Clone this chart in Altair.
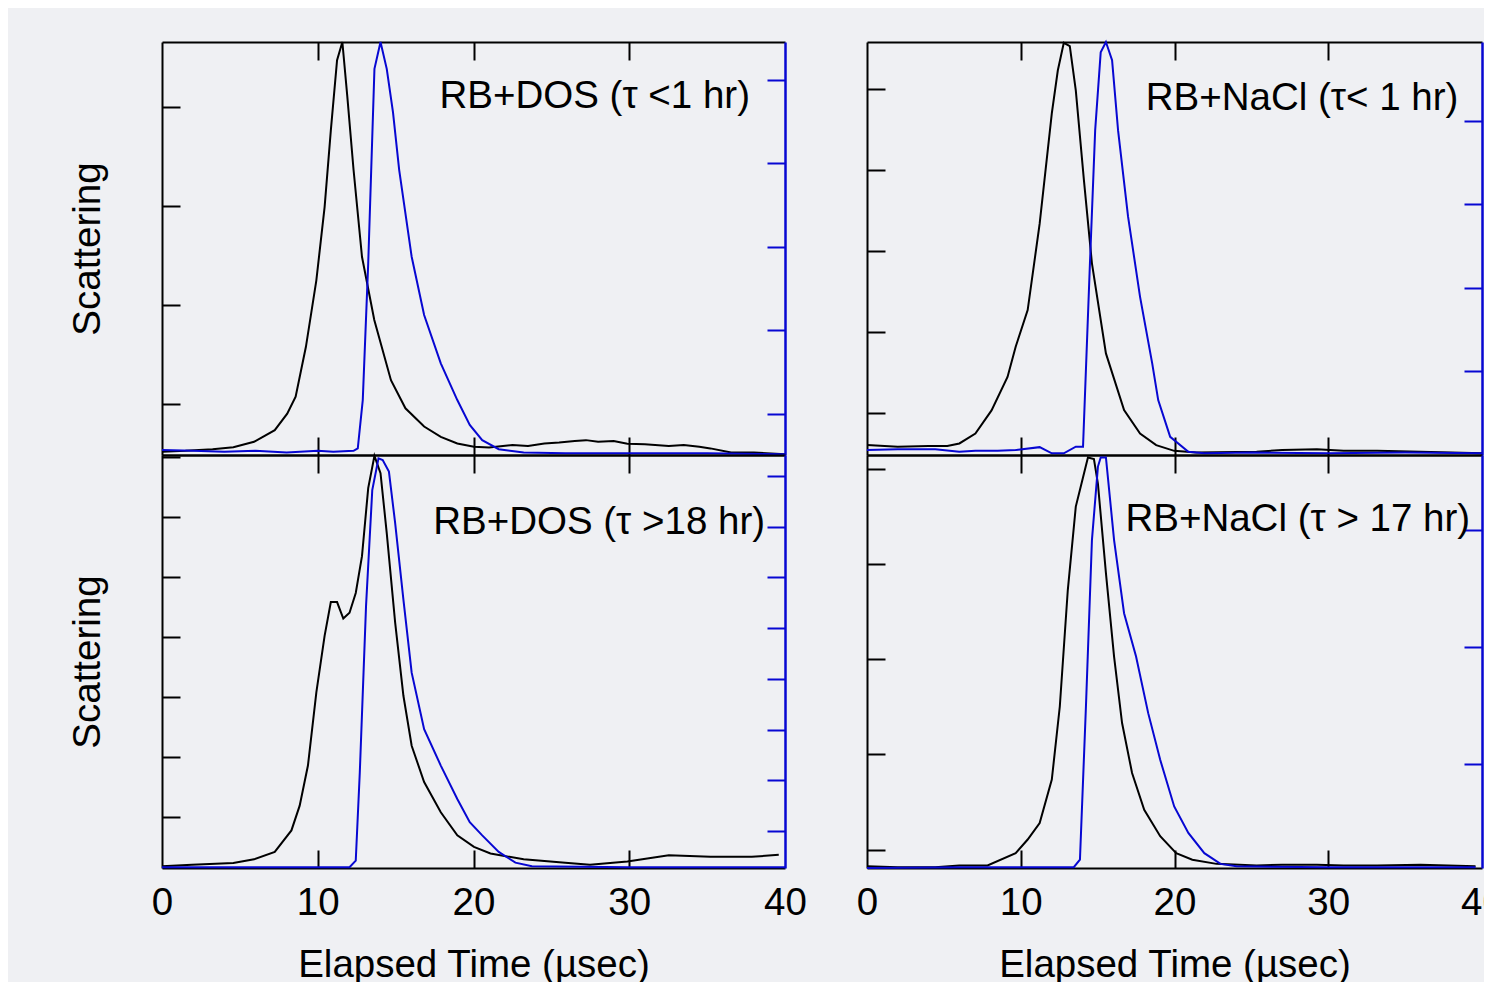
import altair as alt
import pandas as pd

FONT = "Liberation Sans"
BLUE = "#0707d2"
BG = "#eff0f3"

# ---------- data (elapsed time in usec, scattering normalised to panel height) ----------
# Top-left: RB+DOS (tau <1 hr)
tl_black_t = [0, 1.5, 3.25, 4.58, 5.91, 7.24, 8.04, 8.58, 9.24, 9.91, 10.44, 10.84, 11.24, 11.58,
              11.90, 12.30, 12.84, 13.63, 14.70, 15.63, 16.83, 17.90, 18.96, 20.03, 21.0, 21.89,
              22.5, 23.5, 24.55, 25.5, 26.5, 27.22, 28.0, 29.0, 29.88, 31.0, 32.54, 33.5, 34.5,
              35.21, 36.54, 38.0, 40]
tl_black_s = [0.008, 0.010, 0.014, 0.019, 0.032, 0.060, 0.100, 0.141, 0.262, 0.423, 0.600, 0.786,
              0.956, 1.000, 0.867, 0.690, 0.480, 0.327, 0.181, 0.113, 0.069, 0.044, 0.028, 0.020,
              0.018, 0.022, 0.024, 0.022, 0.028, 0.030, 0.034, 0.036, 0.032, 0.034, 0.027, 0.026,
              0.022, 0.024, 0.020, 0.016, 0.006, 0.006, 0.002]
tl_blue_t = [0, 2, 4, 6, 8, 10, 11, 12.30, 12.57, 12.89, 13.24, 13.64, 14.03, 14.43, 14.83, 15.23,
             16.03, 16.83, 17.90, 18.96, 19.76, 20.56, 21.62, 23.22, 25.9, 30, 35, 40]
tl_blue_s = [0.012, 0.010, 0.008, 0.010, 0.006, 0.010, 0.008, 0.010, 0.016, 0.133, 0.464, 0.935,
             1.000, 0.935, 0.830, 0.690, 0.480, 0.339, 0.222, 0.133, 0.073, 0.036, 0.014, 0.006,
             0.004, 0.004, 0.004, 0.002]

# Top-right: RB+NaCl (tau < 1 hr)
tr_black_t = [0, 2, 4, 5.22, 6.01, 7.05, 8.10, 9.14, 9.67, 10.45, 11.23, 12.02, 12.41, 12.80, 13.19,
              13.58, 14.11, 14.63, 15.54, 16.72, 17.76, 18.81, 19.98, 21.42, 25.34, 27, 29.26, 31,
              33.18, 36, 40]
tr_black_s = [0.024, 0.020, 0.022, 0.022, 0.028, 0.052, 0.108, 0.189, 0.262, 0.351, 0.560, 0.827,
              0.931, 0.998, 0.990, 0.883, 0.665, 0.464, 0.246, 0.109, 0.052, 0.024, 0.010, 0.006,
              0.008, 0.012, 0.014, 0.010, 0.010, 0.008, 0.004]
tr_blue_t = [0, 2, 4.44, 6, 7.05, 8.5, 9.67, 11.23, 12.02, 12.80, 13.58, 14.05, 14.50, 14.84, 15.20,
             15.54, 15.94, 16.33, 16.98, 17.76, 18.55, 18.94, 19.72, 20.90, 21.94, 25, 30, 35, 40]
tr_blue_s = [0.012, 0.014, 0.014, 0.008, 0.010, 0.010, 0.012, 0.019, 0.004, 0.004, 0.020, 0.020,
             0.464, 0.786, 0.975, 1.000, 0.956, 0.786, 0.577, 0.383, 0.222, 0.133, 0.044, 0.008,
             0.004, 0.006, 0.004, 0.006, 0.004]

# Bottom-left: RB+DOS (tau >18 hr)
bl_black_t = [0, 1.92, 4.58, 5.91, 7.24, 8.31, 8.84, 9.37, 9.91, 10.44, 10.84, 11.24, 11.64, 12.04,
              12.44, 12.84, 13.24, 13.64, 14.03, 14.43, 14.97, 15.50, 16.03, 16.83, 17.90, 18.96,
              20.03, 21.09, 23.22, 25.89, 27.48, 29.88, 32.54, 35.21, 37.87, 39.60]
bl_black_s = [0.004, 0.008, 0.012, 0.021, 0.039, 0.091, 0.151, 0.248, 0.425, 0.562, 0.644, 0.644,
              0.604, 0.618, 0.666, 0.755, 0.920, 0.998, 0.956, 0.811, 0.594, 0.417, 0.296, 0.208,
              0.135, 0.079, 0.051, 0.035, 0.021, 0.013, 0.008, 0.016, 0.031, 0.027, 0.027, 0.032]
bl_blue_t = [0, 6, 12.04, 12.44, 12.70, 13.10, 13.50, 13.90, 14.17, 14.57, 14.97, 15.50, 16.03,
             16.83, 17.90, 18.96, 19.76, 20.56, 21.62, 22.69, 23.75, 30, 40]
bl_blue_s = [0.002, 0.002, 0.002, 0.018, 0.232, 0.634, 0.915, 0.992, 0.988, 0.960, 0.835, 0.650,
             0.473, 0.336, 0.248, 0.167, 0.111, 0.079, 0.039, 0.013, 0.004, 0.002, 0.002]

# Bottom-right: RB+NaCl (tau > 17 hr)
br_black_t = [0, 2, 4.44, 6, 7.84, 9.67, 10.45, 11.23, 12.02, 12.54, 13.06, 13.58, 13.98, 14.37,
              14.76, 15.02, 15.54, 16.07, 16.59, 17.24, 18.03, 19.07, 20.11, 21.16, 22.73, 25.34,
              27, 29.26, 31, 33.18, 36, 39.58]
br_black_s = [0.004, 0.002, 0.002, 0.006, 0.006, 0.036, 0.069, 0.109, 0.214, 0.391, 0.673, 0.875,
              0.935, 0.994, 0.990, 0.930, 0.714, 0.512, 0.351, 0.230, 0.141, 0.077, 0.036, 0.020,
              0.010, 0.006, 0.008, 0.008, 0.006, 0.006, 0.008, 0.004]
br_blue_t = [0, 6, 13.45, 13.85, 14.24, 14.63, 15.02, 15.20, 15.54, 16.07, 16.72, 17.50, 18.29,
             19.07, 19.98, 20.90, 21.94, 22.99, 24.03, 30, 39.58]
br_blue_s = [0.0, 0.002, 0.002, 0.020, 0.391, 0.794, 0.972, 0.994, 0.994, 0.794, 0.617, 0.512,
             0.375, 0.262, 0.149, 0.085, 0.036, 0.010, 0.004, 0.002, 0.002]

# tick positions (unlabelled axes)
x_ticks = [10, 20, 30]
x_labels = [0, 10, 20, 30, 40]
tl_left_ticks = [0.123, 0.363, 0.603, 0.842]
tl_right_ticks = [0.100, 0.302, 0.504, 0.706, 0.908]
tr_left_ticks = [0.102, 0.298, 0.494, 0.690, 0.886]
tr_right_ticks = [0.203, 0.405, 0.607, 0.809]
bl_left_ticks = [0.123, 0.268, 0.413, 0.559, 0.705, 0.849, 0.995]
bl_right_ticks = [0.090, 0.212, 0.335, 0.458, 0.580, 0.705, 0.826, 0.950]
br_left_ticks = [0.043, 0.275, 0.506, 0.736, 0.966]
br_right_ticks = [0.252, 0.535, 0.818]

labels = ["RB+DOS (\u03c4 <1 hr)", "RB+NaCl (\u03c4< 1 hr)",
          "RB+DOS (\u03c4 >18 hr)", "RB+NaCl (\u03c4 > 17 hr)"]

X_TITLE = "Elapsed Time (\u00b5sec)"
Y_TITLE = "Scattering"

H = 413
W_LEFT, W_RIGHT = 623, 615
TICK = 18
FS = 38.5


def xs():
    return alt.Scale(domain=[0, 40], nice=False, zero=False)


def ys():
    return alt.Scale(domain=[0, 1], nice=False, zero=False)


def panel(bt, bs, ut, us, lticks, rticks, label, lx, ly, left_col, bottom_row):
    black_df = pd.DataFrame({"t": bt, "s": bs})
    blue_df = pd.DataFrame({"t": ut, "s": us})
    lab_df = pd.DataFrame({"label": [label]})

    black = alt.Chart(black_df).mark_line(color="black", strokeWidth=2).encode(
        x=alt.X("t:Q", scale=xs(), axis=alt.Axis(
            orient="bottom", offset=-TICK, tickSize=TICK, tickWidth=2, tickColor="black",
            domain=False, labels=False, grid=False, values=x_ticks, title=None)),
        y=alt.Y("s:Q", scale=ys(), axis=alt.Axis(
            orient="left", offset=-TICK, tickSize=TICK, tickWidth=2, tickColor="black",
            domain=False, labels=False, grid=False, values=lticks, title=None)),
    )
    blue = alt.Chart(blue_df).mark_line(color=BLUE, strokeWidth=2).encode(
        x=alt.X("t:Q", scale=xs(), axis=alt.Axis(
            orient="top", offset=-TICK, tickSize=TICK, tickWidth=2, tickColor="black",
            domain=False, labels=False, grid=False, values=x_ticks, title=None)),
        y=alt.Y("s:Q", scale=ys(), axis=alt.Axis(
            orient="right", offset=-TICK, tickSize=TICK, tickWidth=2, tickColor=BLUE,
            domain=False, labels=False, grid=False, values=rticks, title=None)),
    )
    xaxis_args = dict(orient="bottom", domain=True, domainColor="black", domainWidth=2,
                      ticks=False, grid=False, values=x_labels, labelFlush=False)
    if bottom_row:
        xaxis_args.update(labels=True, labelFontSize=FS, labelFont=FONT, labelColor="black",
                          labelPadding=16, title=X_TITLE, titleFontSize=FS, titleFont=FONT,
                          titleFontWeight="normal", titleColor="black", titlePadding=25)
    else:
        xaxis_args.update(labels=False, title=None)
    yaxis_args = dict(orient="left", domain=True, domainColor="black", domainWidth=2,
                      ticks=False, labels=False, grid=False, values=lticks)
    if left_col:
        yaxis_args.update(title=Y_TITLE, titleFontSize=FS, titleFont=FONT,
                          titleFontWeight="normal", titleColor="black", titlePadding=55)
    else:
        yaxis_args.update(title=None)

    text = alt.Chart(lab_df).mark_text(
        align="right", baseline="middle", fontSize=FS, font=FONT, color="black"
    ).encode(
        text="label:N",
        x=alt.XDatum(lx, scale=xs(), axis=alt.Axis(**xaxis_args)),
        y=alt.YDatum(ly, scale=ys(), axis=alt.Axis(**yaxis_args)),
    )
    frame = alt.Chart(lab_df).mark_text(opacity=0, text=" ").encode(
        x=alt.XDatum(lx, scale=xs(), axis=alt.Axis(
            orient="top", domain=True, domainColor="black", domainWidth=2, ticks=False,
            labels=False, grid=False, values=x_labels, title=None)),
        y=alt.YDatum(ly, scale=ys(), axis=alt.Axis(
            orient="right", domain=True, domainColor=BLUE, domainWidth=2.5, ticks=False,
            labels=False, grid=False, values=rticks, title=None)),
    )
    width = W_LEFT if left_col else W_RIGHT
    return alt.layer(black, blue, text, frame).resolve_scale(
        x="independent", y="independent").properties(width=width, height=H)


tl = panel(tl_black_t, tl_black_s, tl_blue_t, tl_blue_s, tl_left_ticks, tl_right_ticks,
           labels[0], 37.75, 0.870, True, False)
tr = panel(tr_black_t, tr_black_s, tr_blue_t, tr_blue_s, tr_left_ticks, tr_right_ticks,
           labels[1], 38.46, 0.865, False, False)
bl = panel(bl_black_t, bl_black_s, bl_blue_t, bl_blue_s, bl_left_ticks, bl_right_ticks,
           labels[2], 38.72, 0.838, True, True)
br = panel(br_black_t, br_black_s, br_blue_t, br_blue_s, br_left_ticks, br_right_ticks,
           labels[3], 39.23, 0.845, False, True)

chart = alt.concat(tl, tr, bl, br, columns=2, spacing={"row": 0, "column": 82},
                   bounds="flush").properties(
    padding={"left": 59, "top": 29, "right": -20, "bottom": 0},
    background=BG,
).configure_view(stroke="transparent")

chart.save("out.html", embed_options={"renderer": "svg", "actions": False})
